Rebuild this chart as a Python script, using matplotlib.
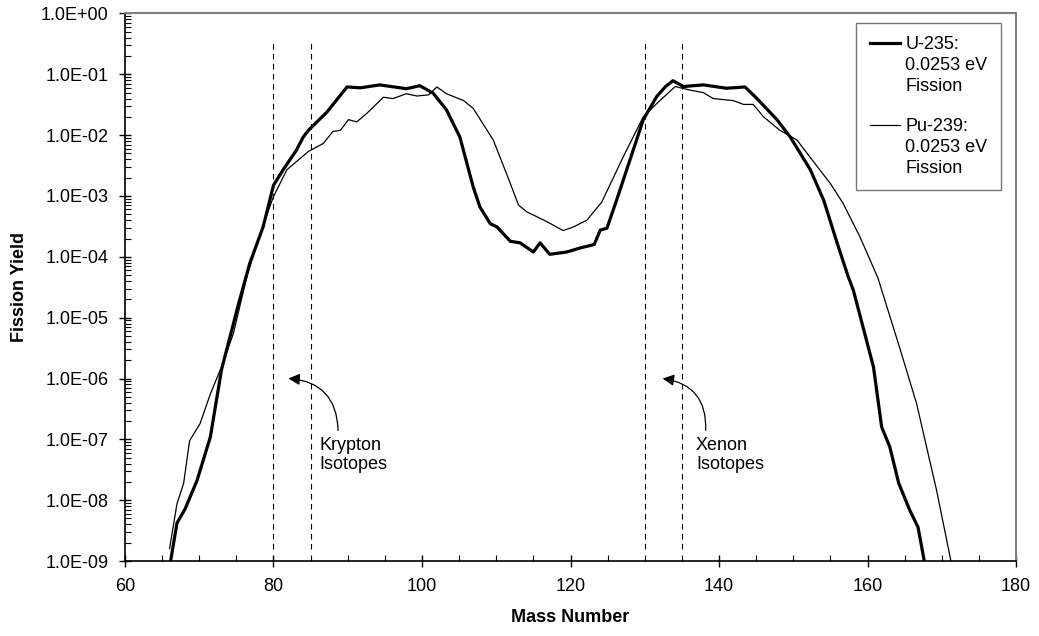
import matplotlib
matplotlib.use("Agg")
import matplotlib.pyplot as plt
from matplotlib.ticker import FuncFormatter, LogLocator, MultipleLocator
from matplotlib.legend_handler import HandlerLine2D

plt.rcParams['font.family'] = ['Liberation Sans', 'DejaVu Sans']

# U-235 thermal (0.0253 eV) fission yield
u235_mass = [66.0, 67.0, 68.1, 69.7, 71.5, 73.0, 75.3, 76.8, 78.6, 80.0,
             81.3, 83.1, 84.0, 84.7, 87.2, 89.9, 91.7, 94.3, 97.9, 99.7,
             101.5, 103.3, 105.1, 106.9, 107.8, 109.2, 110.1, 111.9, 113.2, 115.0,
             115.9, 117.2, 119.5, 121.3, 122.8, 123.2, 124.0, 124.9, 126.2, 128.0,
             129.8, 131.6, 132.8, 133.8, 135.2, 137.9, 141.0, 143.5, 145.1, 147.8,
             149.6, 152.3, 154.1, 155.9, 157.4, 158.1, 160.8, 161.9, 163.0, 164.2,
             165.7, 166.8, 167.8]
u235_yield = [7.9e-10, 4.2e-9, 7.2e-9, 2.1e-8, 1.1e-7, 1.4e-6, 1.7e-5, 7.8e-5, 3.1e-4, 1.5e-3,
              2.7e-3, 5.7e-3, 9.3e-3, 1.2e-2, 2.4e-2, 6.2e-2, 6.0e-2, 6.7e-2, 5.8e-2, 6.5e-2,
              4.9e-2, 2.6e-2, 9.3e-3, 1.4e-3, 6.6e-4, 3.5e-4, 3.1e-4, 1.8e-4, 1.7e-4, 1.2e-4,
              1.7e-4, 1.1e-4, 1.2e-4, 1.4e-4, 1.55e-4, 1.6e-4, 2.75e-4, 2.95e-4, 8.5e-4, 3.9e-3,
              1.8e-2, 4.3e-2, 6.3e-2, 7.85e-2, 6.3e-2, 6.7e-2, 5.9e-2, 6.2e-2, 4.0e-2, 1.8e-2,
              9.3e-3, 2.7e-3, 8.5e-4, 1.7e-4, 4.7e-5, 2.8e-5, 1.55e-6, 1.6e-7, 7.5e-8, 1.9e-8,
              6.8e-9, 3.6e-9, 7.9e-10]

# Pu-239 thermal (0.0253 eV) fission yield
pu239_mass = [66.0, 67.0, 67.9, 68.7, 70.1, 71.5, 73.0, 74.6, 76.4, 78.2,
              80.0, 81.8, 84.7, 86.7, 88.0, 89.0, 90.1, 91.2, 92.6, 94.8,
              96.1, 97.9, 99.3, 100.9, 102.0, 103.3, 105.6, 106.9, 109.6, 111.4,
              113.0, 114.1, 116.8, 119.0, 120.4, 122.2, 124.2, 127.1, 129.8, 131.6,
              134.1, 136.1, 137.9, 139.2, 141.9, 143.3, 144.6, 146.0, 148.2, 150.5,
              154.0, 155.0, 156.7, 159.0, 161.4, 164.4, 166.6, 169.3, 171.3]
pu239_yield = [1.6e-9, 8.7e-9, 1.9e-8, 9.5e-8, 1.8e-7, 5.6e-7, 1.55e-6, 5.5e-6, 4.7e-5, 2.4e-4,
               9.8e-4, 2.7e-3, 5.4e-3, 7.3e-3, 1.15e-2, 1.2e-2, 1.8e-2, 1.65e-2, 2.3e-2, 4.2e-2,
               4.0e-2, 4.8e-2, 4.4e-2, 4.6e-2, 6.2e-2, 4.8e-2, 3.7e-2, 2.75e-2, 8.3e-3, 2.3e-3,
               7.1e-4, 5.5e-4, 3.8e-4, 2.7e-4, 3.1e-4, 4.0e-4, 7.9e-4, 4.4e-3, 2.0e-2, 3.3e-2,
               6.3e-2, 5.5e-2, 5.0e-2, 4.0e-2, 3.7e-2, 3.2e-2, 3.2e-2, 2.0e-2, 1.2e-2, 8.3e-3,
               2.3e-3, 1.6e-3, 7.6e-4, 2.1e-4, 4.5e-5, 3.0e-6, 3.9e-7, 1.45e-8, 9.1e-10]

# isotope marker lines and notes
isotope_lines = [80, 85, 130, 135]
line_span = (1.55e-9, 0.34)
notes = ["Krypton\nIsotopes", "Xenon\nIsotopes"]
note_text_pos = [(86.2, 1.1e-7), (136.9, 1.1e-7)]
note_tail = [(88.7, 1.4e-7), (138.2, 1.4e-7)]
note_tip = [(82.0, 1.0e-6), (132.4, 1.0e-6)]


class TopLineHandler(HandlerLine2D):
    # put the legend line next to the first line of a multi-line label
    def create_artists(self, legend, orig_handle, xdescent, ydescent,
                       width, height, fontsize, trans):
        artists = super().create_artists(legend, orig_handle, xdescent, ydescent,
                                         width, height, fontsize, trans)
        for a in artists:
            yd = a.get_ydata()
            a.set_ydata([y + fontsize * 1.25 for y in yd])
        return artists


fig = plt.figure(figsize=(10.39, 6.36), dpi=100)
ax = fig.add_axes([0.1203, 0.1179, 0.8576, 0.8609])

ax.plot(u235_mass, u235_yield, color='black', lw=2.3,
        label="U-235:\n0.0253 eV\nFission")
ax.plot(pu239_mass, pu239_yield, color='black', lw=0.9,
        label="Pu-239:\n0.0253 eV\nFission")

for xv in isotope_lines:
    ax.plot([xv, xv], line_span, color='black', lw=0.8, linestyle=(0, (5, 4)))

for txt, tpos, tail, tip in zip(notes, note_text_pos, note_tail, note_tip):
    ax.text(tpos[0], tpos[1], txt, fontsize=13, ha='left', va='top')
    ax.annotate("", xy=tip, xytext=tail,
                arrowprops=dict(arrowstyle="-|>", color='black', lw=0.9,
                                mutation_scale=17, shrinkA=0, shrinkB=0,
                                connectionstyle="arc3,rad=0.45"))

ax.set_yscale('log')
ax.set_xlim(60, 180)
ax.set_ylim(1e-9, 1)

ax.xaxis.set_major_locator(MultipleLocator(20))
ax.xaxis.set_minor_locator(MultipleLocator(5))
ax.yaxis.set_major_locator(LogLocator(base=10, numticks=20))
ax.yaxis.set_minor_locator(LogLocator(base=10, subs=range(2, 10), numticks=20))
ax.yaxis.set_major_formatter(FuncFormatter(lambda v, p: f"{v:.1E}"))
ax.yaxis.set_minor_formatter(FuncFormatter(lambda v, p: ""))

ax.tick_params(axis='both', which='major', direction='inout', length=9,
               width=1.0, labelsize=13, color='black')
ax.tick_params(axis='both', which='minor', direction='in', length=4, width=0.8)
ax.tick_params(axis='x', which='major', pad=8)
ax.tick_params(axis='y', which='major', pad=7.5)

for side in ['left', 'bottom']:
    ax.spines[side].set_linewidth(1.2)
    ax.spines[side].set_color('black')
for side in ['top', 'right']:
    ax.spines[side].set_color('#808080')
    ax.spines[side].set_linewidth(1.5)

ax.set_xlabel("Mass Number", fontsize=13, fontweight='bold', labelpad=10)
ax.set_ylabel("Fission Yield", fontsize=13, fontweight='bold', labelpad=9)

leg = ax.legend(loc='upper right', bbox_to_anchor=(0.983, 0.983), borderaxespad=0,
                fontsize=13, frameon=True, fancybox=False, handlelength=1.65,
                handletextpad=0.3, labelspacing=1.25, borderpad=0.75,
                handler_map={plt.Line2D: TopLineHandler()})
for t in leg.get_texts():
    t.set_linespacing(1.3)
leg.get_frame().set_edgecolor('#555555')
leg.get_frame().set_linewidth(1.0)

fig.savefig("out.png", dpi=100)
